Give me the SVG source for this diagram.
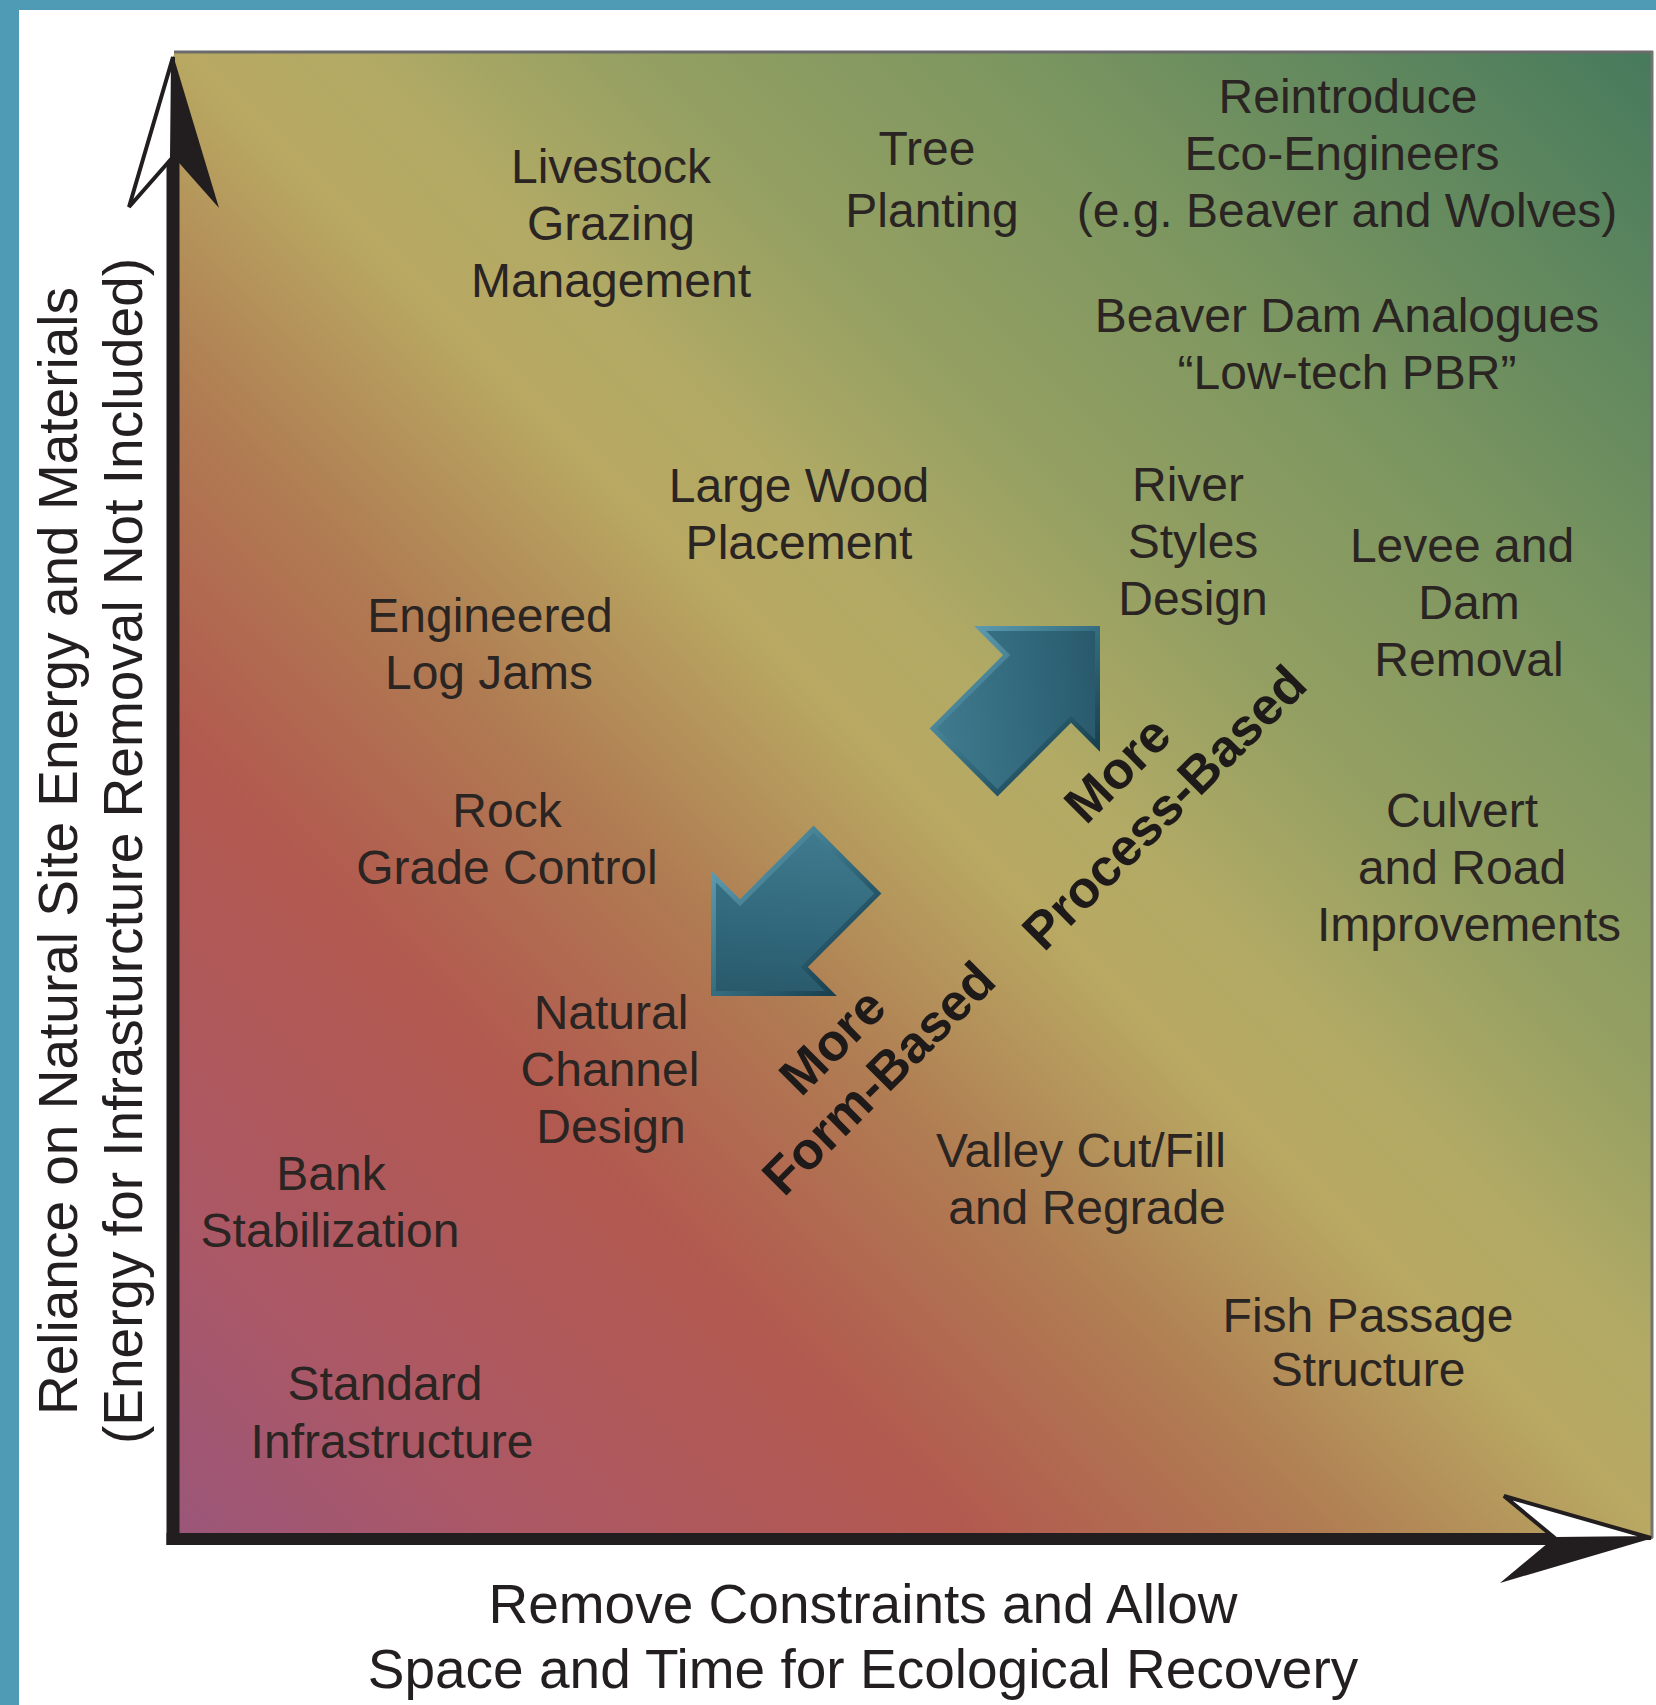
<svg xmlns="http://www.w3.org/2000/svg" width="1656" height="1705" viewBox="0 0 1656 1705">
<style>
.t{font-family:"Liberation Sans",Arial,sans-serif;font-size:48px;fill:#2a2422;text-anchor:middle}
.ax{font-family:"Liberation Sans",Arial,sans-serif;font-size:55px;fill:#231f20;text-anchor:middle}
.b{font-family:"Liberation Sans",Arial,sans-serif;font-size:52px;font-weight:bold;fill:#1e1a1a}
.axis{stroke:#221e1f;fill:none}
.bevel{fill:url(#bevel)}
.body{fill:url(#body)}
</style>
<defs>
<linearGradient id="bg" x1="0" y1="1" x2="1" y2="0">
<stop offset="0" stop-color="#9a5679"/>
<stop offset="0.12" stop-color="#ac5865"/>
<stop offset="0.27" stop-color="#b2594f"/>
<stop offset="0.39" stop-color="#b07c52"/>
<stop offset="0.5" stop-color="#b8a862"/>
<stop offset="0.56" stop-color="#b2aa65"/>
<stop offset="0.65" stop-color="#95a062"/>
<stop offset="0.78" stop-color="#7c9660"/>
<stop offset="0.9" stop-color="#5f875e"/>
<stop offset="1" stop-color="#467a5c"/>
</linearGradient>
<linearGradient id="bevel" gradientUnits="userSpaceOnUse" x1="0" y1="-90" x2="0" y2="90">
<stop offset="0" stop-color="#5f9cb0"/>
<stop offset="0.5" stop-color="#356d80"/>
<stop offset="1" stop-color="#163d4c"/>
</linearGradient>
<linearGradient id="body" gradientUnits="userSpaceOnUse" x1="-190" y1="-80" x2="0" y2="80">
<stop offset="0" stop-color="#447f93"/>
<stop offset="0.55" stop-color="#2f6578"/>
<stop offset="1" stop-color="#224d5e"/>
</linearGradient>
</defs>

<rect x="0" y="0" width="1656" height="1705" fill="#ffffff"/>
<rect x="0" y="0" width="19" height="1705" fill="#4f9ab4"/>
<rect x="0" y="0" width="1656" height="10" fill="#4f9ab4"/>

<g id="plot-area">
<rect x="174" y="51" width="1479" height="1488" fill="url(#bg)"/>
<line x1="174" y1="52" x2="1653" y2="52" stroke="#6b6b6b" stroke-width="3"/>
<line x1="1652" y1="51" x2="1652" y2="1538" stroke="#737373" stroke-width="3"/>
</g>

<g id="connectors">
<g id="y-axis">
<line class="axis" x1="173" y1="150" x2="173" y2="1545" stroke-width="13"/>
<polygon points="173,57 129,207 172,158" fill="#ffffff" stroke="#221e1f" stroke-width="4" stroke-linejoin="miter"/>
<polygon points="173,55 219,208 173,156" fill="#221e1f"/>
</g>
<g id="x-axis">
<line class="axis" x1="166.5" y1="1539" x2="1560" y2="1539" stroke-width="12"/>
<polygon points="1651,1538 1504,1496 1556,1539" fill="#ffffff" stroke="#221e1f" stroke-width="4"/>
<polygon points="1653,1538 1500,1583 1554,1538" fill="#221e1f"/>
</g>
<g id="arrow-process" transform="translate(1100,626) rotate(-45)">
<polygon class="bevel" points="0,0 -89,-89 -89,-48 -193,-48 -193,48 -89,48 -89,89"/>
<polygon class="body" points="-7,0 -84,-77 -84,-43 -188,-43 -188,43 -84,43 -84,77"/>
</g>
<g id="arrow-form" transform="translate(711,996) rotate(135)">
<polygon class="bevel" points="0,0 -89,-89 -89,-48 -193,-48 -193,48 -89,48 -89,89" transform="scale(1,-1)"/>
<polygon class="body" points="-7,0 -84,-77 -84,-43 -188,-43 -188,43 -84,43 -84,77" transform="scale(1,-1)"/>
</g>
</g>

<g id="node-livestock"><text class="t"><tspan x="611" y="183">Livestock</tspan><tspan x="611" y="240">Grazing</tspan><tspan x="611" y="297">Management</tspan></text></g>
<g id="node-tree"><text class="t"><tspan x="927" y="165">Tree</tspan><tspan x="932" y="227">Planting</tspan></text></g>
<g id="node-reintroduce"><text class="t"><tspan x="1348" y="113">Reintroduce</tspan><tspan x="1342" y="170">Eco-Engineers</tspan><tspan x="1347" y="227">(e.g. Beaver and Wolves)</tspan></text></g>
<g id="node-bda"><text class="t"><tspan x="1347" y="332">Beaver Dam Analogues</tspan><tspan x="1347" y="389">“Low-tech PBR”</tspan></text></g>
<g id="node-large-wood"><text class="t"><tspan x="799" y="502">Large Wood</tspan><tspan x="799" y="559">Placement</tspan></text></g>
<g id="node-river-styles"><text class="t"><tspan x="1188" y="501">River</tspan><tspan x="1193" y="558">Styles</tspan><tspan x="1193" y="615">Design</tspan></text></g>
<g id="node-levee"><text class="t"><tspan x="1462" y="562">Levee and</tspan><tspan x="1469" y="619">Dam</tspan><tspan x="1469" y="676">Removal</tspan></text></g>
<g id="node-elj"><text class="t"><tspan x="490" y="632">Engineered</tspan><tspan x="489" y="689">Log Jams</tspan></text></g>
<g id="node-rock"><text class="t"><tspan x="507" y="827">Rock</tspan><tspan x="507" y="884">Grade Control</tspan></text></g>
<g id="node-culvert"><text class="t"><tspan x="1462" y="827">Culvert</tspan><tspan x="1462" y="884">and Road</tspan><tspan x="1469" y="941">Improvements</tspan></text></g>
<g id="node-ncd"><text class="t"><tspan x="611" y="1029">Natural</tspan><tspan x="610" y="1086">Channel</tspan><tspan x="611" y="1143">Design</tspan></text></g>
<g id="node-valley"><text class="t"><tspan x="1081" y="1167">Valley Cut/Fill</tspan><tspan x="1087" y="1224">and Regrade</tspan></text></g>
<g id="node-bank"><text class="t"><tspan x="331" y="1190">Bank</tspan><tspan x="330" y="1247">Stabilization</tspan></text></g>
<g id="node-fish"><text class="t"><tspan x="1368" y="1332">Fish Passage</tspan><tspan x="1368" y="1386">Structure</tspan></text></g>
<g id="node-standard"><text class="t"><tspan x="385" y="1400">Standard</tspan><tspan x="392" y="1458">Infrastructure</tspan></text></g>

<g id="label-process">
<text class="b" transform="translate(1086,826) rotate(-45)">More</text>
<text class="b" transform="translate(1044,953) rotate(-45)">Process-Based</text>
</g>
<g id="label-form">
<text class="b" transform="translate(801,1098) rotate(-45)">More</text>
<text class="b" transform="translate(784,1198) rotate(-45)">Form-Based</text>
</g>

<g id="y-axis-label">
<text class="ax" transform="translate(77,851) rotate(-90)">Reliance on Natural Site Energy and Materials</text>
<text class="ax" transform="translate(142,851) rotate(-90)">(Energy for Infrasturcture Removal Not Included)</text>
</g>
<g id="x-axis-label">
<text class="ax" x="863" y="1623">Remove Constraints and Allow</text>
<text class="ax" x="863" y="1688">Space and Time for Ecological Recovery</text>
</g>
</svg>
